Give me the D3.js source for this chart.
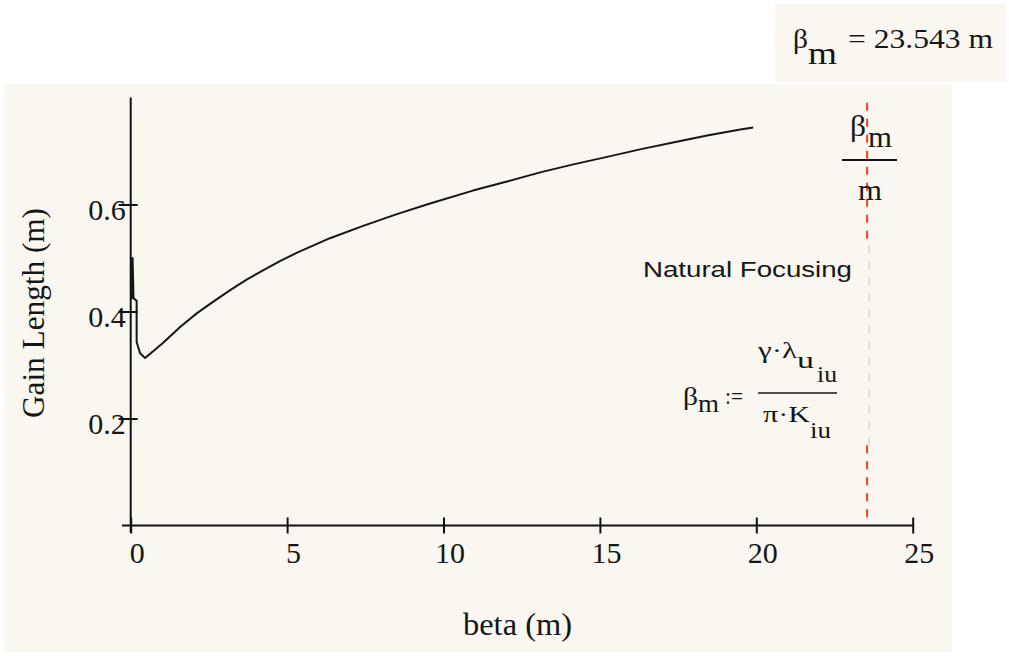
<!DOCTYPE html>
<html>
<head>
<meta charset="utf-8">
<script src="https://cdn.jsdelivr.net/npm/d3@7"></script>
<style>
  html, body { margin: 0; padding: 0; background: #ffffff; }
  svg { display: block; }
  text { fill: #161616; }
</style>
</head>
<body>
<svg id="chart" width="1009" height="656"></svg>
<script>
// Gain length versus average beta function
const betaValues = [0.01, 0.03, 0.06, 0.09, 0.19, 0.19, 0.30, 0.46, 1.03, 1.58, 2.12, 2.63, 3.18,
  3.72, 4.23, 4.77, 5.32, 6.37, 7.43, 8.51, 9.57, 10.94, 12.03, 13.09, 14.15, 15.23,
  16.28, 17.34, 18.43, 19.49, 19.90];
const gainLengths = [0.500, 0.425, 0.500, 0.425, 0.420, 0.343, 0.322, 0.313, 0.341, 0.371, 0.397,
  0.418, 0.440, 0.460, 0.477, 0.494, 0.510, 0.537, 0.560, 0.582, 0.602, 0.626, 0.643,
  0.660, 0.675, 0.689, 0.703, 0.716, 0.729, 0.740, 0.744];
const xTicks = [0, 5, 10, 15, 20, 25];
const yTicks = [0.2, 0.4, 0.6];
const betaM = 23.543;           // natural focusing beta, metres
const betaMLabel = "23.543";

const SERIF = "'Liberation Serif', 'Times New Roman', serif";
const SANS = "'Liberation Sans', Arial, sans-serif";
const CREAM = "#f9f7f0";
const RED = "#f2401f";

const svg = d3.select("#chart");

// worksheet regions
svg.append("rect").attr("x", 4).attr("y", 84).attr("width", 948).attr("height", 568).attr("fill", CREAM);
svg.append("rect").attr("x", 775).attr("y", 4).attr("width", 231).attr("height", 78).attr("fill", CREAM);

const x = d3.scaleLinear().domain([0, 25]).range([130.7, 912.7]);
const y = d3.scaleLinear().domain([0, 0.8]).range([525.5, 97.5]);

function txt(parent, s, px, py, size, len, family) {
  const t = parent.append("text")
    .attr("x", px).attr("y", py)
    .style("font-family", family || SERIF)
    .style("font-size", size + "px")
    .text(s);
  if (len) t.attr("textLength", len).attr("lengthAdjust", "spacingAndGlyphs");
  return t;
}

// natural focusing marker
const xm = x(betaM);
const dash = svg.append("g").attr("stroke", RED).attr("stroke-dasharray", "8,8").attr("fill", "none");
dash.append("line").attr("x1", xm).attr("x2", xm).attr("y1", y(0.79)).attr("y2", y(0.524)).attr("stroke-width", 2);
dash.append("line").attr("x1", xm + 2).attr("x2", xm + 2).attr("y1", y(0.524)).attr("y2", y(0.150))
  .attr("stroke-width", 1).attr("stroke-opacity", 0.35);
dash.append("line").attr("x1", xm).attr("x2", xm).attr("y1", y(0.150)).attr("y2", y(0)).attr("stroke-width", 2);

// axes
const gx = svg.append("g").attr("transform", `translate(0,${y(0)})`)
  .call(d3.axisBottom(x).tickValues(xTicks).tickFormat(d3.format("d")).tickSizeOuter(0));
gx.select(".domain").remove();
gx.selectAll(".tick line").attr("y1", -8).attr("y2", 8).attr("stroke", "#111").attr("stroke-width", 2);
gx.selectAll(".tick text").attr("dy", null).attr("y", 37).attr("dx", 6)
  .style("font-family", SERIF).style("font-size", "30px").attr("fill", "#161616");
gx.append("line").attr("x1", x(-0.28)).attr("x2", x(25)).attr("y1", 0).attr("y2", 0)
  .attr("stroke", "#111").attr("stroke-width", 2);

const gy = svg.append("g").attr("transform", `translate(${x(0)},0)`)
  .call(d3.axisLeft(y).tickValues(yTicks).tickFormat(d3.format(".1f")).tickSizeOuter(0));
gy.select(".domain").remove();
gy.selectAll(".tick line").attr("x1", -12).attr("x2", 7).attr("stroke", "#111").attr("stroke-width", 2);
gy.selectAll(".tick text").attr("dy", null).attr("y", 15).attr("x", -5)
  .style("font-family", SERIF).style("font-size", "30px").attr("fill", "#161616");
gy.append("line").attr("x1", 0).attr("x2", 0).attr("y1", y(0) + 7).attr("y2", y(0.8))
  .attr("stroke", "#111").attr("stroke-width", 2);

// gain length curve
const pts = betaValues.map((b, i) => [b, gainLengths[i]]);
svg.append("path").datum(pts)
  .attr("fill", "none").attr("stroke", "#161616").attr("stroke-width", 2)
  .attr("stroke-linejoin", "round")
  .attr("d", d3.line().x(d => x(d[0])).y(d => y(d[1])));

// axis titles
txt(svg, "beta (m)", 463, 635, 32, 109);
txt(svg, "Gain Length (m)", 0, 0, 32, 210)
  .attr("text-anchor", "middle")
  .attr("transform", "translate(44,313) rotate(-90)");

// result readout
txt(svg, "β", 793, 48, 27, 15);
txt(svg, "m", 808, 64, 32, 29);
txt(svg, "= " + betaMLabel + " m", 848, 48, 28, 145);

// label on the marker: beta_m / m
txt(svg, "β", 850, 136, 30, 16);
txt(svg, "m", 868, 147, 29, 24);
svg.append("line").attr("x1", 842).attr("x2", 897).attr("y1", 160).attr("y2", 160)
  .attr("stroke", "#161616").attr("stroke-width", 2);
txt(svg, "m", 858, 200, 29, 24);

// notes
txt(svg, "Natural Focusing", 643, 277, 22, 209, SANS);

// definition: beta_m := gamma*lambda_u / (pi*K)
txt(svg, "β", 683, 405, 25, 15);
txt(svg, "m", 698, 412, 26, 21);
txt(svg, ":=", 725, 404, 24, 18);
svg.append("line").attr("x1", 758).attr("x2", 837).attr("y1", 393).attr("y2", 393)
  .attr("stroke", "#161616").attr("stroke-width", 1.5);
txt(svg, "γ·λ", 758, 358, 24, 39);
txt(svg, "u", 797, 368, 24, 17);
txt(svg, "iu", 817, 382, 24, 20);
txt(svg, "π·K", 763, 422, 24, 47);
txt(svg, "iu", 810, 438, 24, 21);
</script>
</body>
</html>
